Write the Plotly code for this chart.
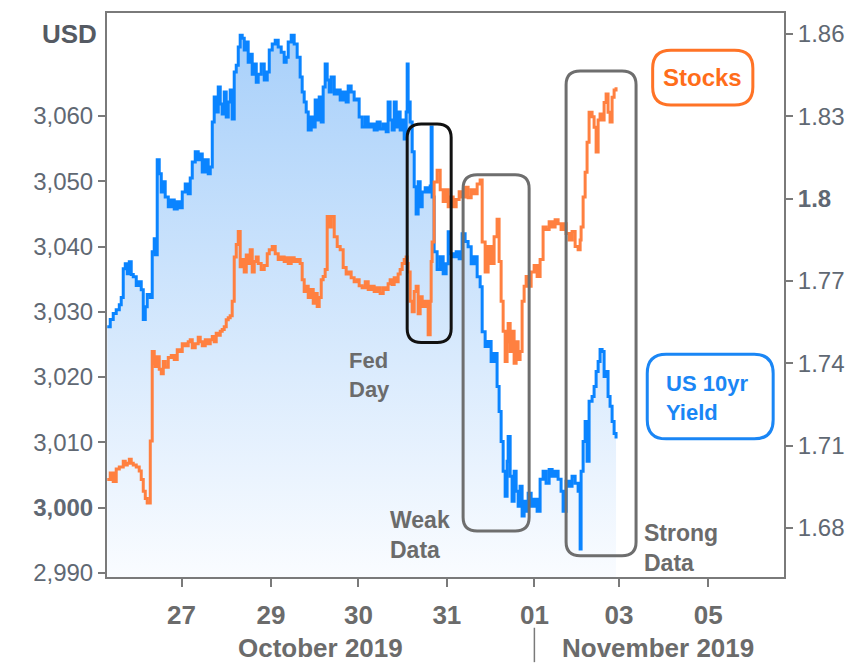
import plotly.graph_objects as go

# ---------------- data ----------------
# x position in trading-session units (0 = "27" tick, 1 = "29" tick, ...)
session_pos = [
    -0.846, -0.812, -0.778, -0.744, -0.709, -0.687, -0.664, -0.641, -0.618, -0.595,
    -0.573, -0.550, -0.516, -0.482, -0.459, -0.436, -0.413, -0.391, -0.356, -0.334,
    -0.311, -0.299, -0.277, -0.254, -0.231, -0.208, -0.186, -0.151, -0.117, -0.083,
    -0.049, -0.015, 0.008, 0.042, 0.076, 0.099, 0.122, 0.156, 0.190, 0.213,
    0.236, 0.270, 0.304, 0.327, 0.350, 0.372, 0.395, 0.418, 0.441, 0.463,
    0.486, 0.509, 0.532, 0.554, 0.577, 0.600, 0.623, 0.646, 0.668, 0.691,
    0.714, 0.737, 0.759, 0.782, 0.805, 0.828, 0.851, 0.873, 0.907, 0.942,
    0.976, 0.999, 1.033, 1.067, 1.101, 1.135, 1.169, 1.192, 1.215, 1.249,
    1.283, 1.317, 1.351, 1.374, 1.397, 1.420, 1.443, 1.477, 1.500, 1.522,
    1.545, 1.568, 1.591, 1.613, 1.636, 1.659, 1.682, 1.704, 1.739, 1.773,
    1.807, 1.841, 1.875, 1.898, 1.932, 1.966, 2.001, 2.023, 2.057, 2.092,
    2.126, 2.160, 2.194, 2.228, 2.262, 2.297, 2.331, 2.353, 2.376, 2.399,
    2.422, 2.445, 2.467, 2.490, 2.513, 2.536, 2.558, 2.570, 2.581, 2.604,
    2.627, 2.650, 2.672, 2.695, 2.718, 2.741, 2.775, 2.809, 2.832, 2.843,
    2.854, 2.877, 2.911, 2.946, 2.980, 3.014, 3.037, 3.059, 3.094, 3.128,
    3.162, 3.196, 3.230, 3.264, 3.299, 3.333, 3.367, 3.401, 3.424, 3.458,
    3.492, 3.526, 3.560, 3.594, 3.617, 3.640, 3.663, 3.686, 3.708, 3.720,
    3.743, 3.765, 3.788, 3.811, 3.834, 3.856, 3.879, 3.902, 3.925, 3.948,
    3.982, 4.016, 4.050, 4.084, 4.118, 4.152, 4.187, 4.221, 4.255, 4.289,
    4.323, 4.346, 4.380, 4.414, 4.448, 4.483, 4.517, 4.540, 4.551, 4.574,
    4.597, 4.619, 4.642, 4.676, 4.699, 4.722, 4.745, 4.767, 4.790, 4.813,
    4.836, 4.858, 4.881, 4.904, 4.927, 4.949,
]

yield_10y = [
    1.7533, 1.7559, 1.7581, 1.7595, 1.7613, 1.7639, 1.7744, 1.7762, 1.7726, 1.7770,
    1.7723, 1.7715, 1.7683, 1.7697, 1.7668, 1.7559, 1.7606, 1.7650, 1.7639, 1.7806,
    1.7853, 1.7795, 1.8141, 1.8090, 1.8024, 1.8061, 1.8006, 1.7970, 1.7995, 1.7962,
    1.7988, 1.7966, 1.8024, 1.8053, 1.8017, 1.8075, 1.8133, 1.8170, 1.8141, 1.8162,
    1.8097, 1.8141, 1.8090, 1.8115, 1.8279, 1.8370, 1.8315, 1.8406, 1.8344, 1.8308,
    1.8388, 1.8297, 1.8352, 1.8395, 1.8290, 1.8461, 1.8486, 1.8552, 1.8595, 1.8584,
    1.8541, 1.8570, 1.8497, 1.8526, 1.8453, 1.8490, 1.8424, 1.8453, 1.8490, 1.8432,
    1.8461, 1.8541, 1.8563, 1.8577, 1.8552, 1.8533, 1.8497, 1.8515, 1.8570, 1.8595,
    1.8563, 1.8515, 1.8443, 1.8388, 1.8352, 1.8315, 1.8250, 1.8297, 1.8261, 1.8359,
    1.8286, 1.8370, 1.8279, 1.8406, 1.8490, 1.8432, 1.8388, 1.8443, 1.8381, 1.8395,
    1.8359, 1.8388, 1.8352, 1.8410, 1.8388, 1.8359, 1.8363, 1.8297, 1.8261, 1.8297,
    1.8261, 1.8272, 1.8250, 1.8279, 1.8253, 1.8272, 1.8243, 1.8352, 1.8286, 1.8250,
    1.8352, 1.8261, 1.8315, 1.8250, 1.8286, 1.8217, 1.8315, 1.8490, 1.8352, 1.8279,
    1.8170, 1.8043, 1.7944, 1.8061, 1.7970, 1.8024, 1.8039, 1.8024, 1.8046, 1.8261,
    1.8006, 1.7806, 1.7741, 1.7788, 1.7726, 1.7762, 1.7879, 1.7799, 1.7788, 1.7806,
    1.7781, 1.7872, 1.7843, 1.7824, 1.7762, 1.7788, 1.7715, 1.7679, 1.7515, 1.7461,
    1.7479, 1.7406, 1.7435, 1.7315, 1.7224, 1.7115, 1.7006, 1.6915, 1.7043, 1.7133,
    1.6988, 1.6897, 1.7006, 1.6933, 1.6879, 1.6952, 1.6843, 1.6897, 1.6861, 1.6926,
    1.6879, 1.6904, 1.6861, 1.6977, 1.7006, 1.6963, 1.7013, 1.6988, 1.7006, 1.6977,
    1.6933, 1.6861, 1.6970, 1.6952, 1.6988, 1.6963, 1.6933, 1.6723, 1.7006, 1.7115,
    1.7188, 1.7043, 1.7261, 1.7279, 1.7315, 1.7370, 1.7406, 1.7450, 1.7443, 1.7352,
    1.7370, 1.7279, 1.7243, 1.7188, 1.7144, 1.7126,
]

stocks = [
    3004.3, 3005.3, 3004.0, 3005.9, 3006.2, 3006.2, 3007.1, 3006.5, 3006.8, 3007.4,
    3006.8, 3006.5, 3006.2, 3005.6, 3004.3, 3002.5, 3001.4, 3000.7, 3010.2, 3023.9,
    3022.1, 3021.6, 3023.1, 3021.2, 3020.5, 3022.4, 3021.5, 3023.0, 3023.3, 3022.7,
    3024.2, 3023.9, 3025.1, 3024.8, 3025.4, 3025.7, 3024.5, 3025.1, 3026.1, 3025.4,
    3024.8, 3025.7, 3025.1, 3025.7, 3026.2, 3025.4, 3026.7, 3026.4, 3027.0, 3027.3,
    3027.7, 3028.8, 3029.1, 3029.4, 3031.6, 3038.4, 3040.3, 3042.3, 3036.9, 3038.0,
    3036.1, 3038.7, 3037.4, 3039.5, 3036.1, 3037.7, 3038.4, 3037.4, 3036.5, 3037.1,
    3038.9, 3039.5, 3040.0, 3038.9, 3038.0, 3038.4, 3037.7, 3038.3, 3037.4, 3038.3,
    3037.7, 3038.0, 3037.4, 3034.9, 3033.1, 3033.9, 3032.2, 3033.4, 3031.3, 3032.8,
    3030.8, 3032.2, 3034.9, 3035.4, 3036.5, 3044.6, 3043.0, 3044.6, 3041.5, 3040.0,
    3039.5, 3036.8, 3035.8, 3036.1, 3035.2, 3034.6, 3034.9, 3034.0, 3033.7, 3034.6,
    3033.4, 3033.9, 3033.1, 3033.7, 3032.8, 3033.7, 3033.4, 3034.3, 3034.9, 3034.2,
    3035.2, 3034.6, 3035.8, 3036.5, 3037.4, 3038.0, 3038.4, 3037.4, 3036.1, 3031.6,
    3030.0, 3033.1, 3033.9, 3029.7, 3032.3, 3030.8, 3031.6, 3026.5, 3031.6, 3037.7,
    3040.7, 3049.9, 3051.7, 3048.7, 3046.9, 3048.7, 3046.1, 3047.6, 3046.1, 3047.2,
    3048.4, 3047.6, 3049.1, 3047.5, 3048.7, 3048.1, 3049.6, 3050.2, 3040.7, 3036.1,
    3040.0, 3037.4, 3041.5, 3044.2, 3037.7, 3031.6, 3027.0, 3022.4, 3025.4, 3028.2,
    3023.9, 3027.0, 3022.1, 3025.4, 3022.7, 3023.9, 3031.6, 3033.9, 3035.4, 3033.9,
    3036.1, 3037.1, 3035.4, 3038.0, 3043.0, 3042.6, 3043.8, 3043.0, 3044.1, 3043.5,
    3042.6, 3043.5, 3042.0, 3041.0, 3042.3, 3040.0, 3039.5, 3041.0, 3043.0, 3047.6,
    3051.4, 3056.0, 3060.6, 3059.9, 3058.3, 3054.5, 3059.4, 3060.3, 3059.4, 3062.1,
    3063.4, 3060.6, 3059.1, 3062.9, 3064.0, 3064.4,
]

date_tick_pos = [0.0, 1.018, 2.015, 3.022, 4.019, 4.983, 6.0]
date_tick_labels = ["27", "29", "30", "31", "01", "03", "05"]
month_labels = ["October 2019", "November 2019"]

usd_ticks = [2990, 3000, 3010, 3020, 3030, 3040, 3050, 3060]
usd_tick_labels = ["2,990", "<b>3,000</b>", "3,010", "3,020", "3,030", "3,040", "3,050", "3,060"]
yield_ticks = [1.68, 1.71, 1.74, 1.77, 1.80, 1.83, 1.86]
yield_tick_labels = ["1.68", "1.71", "1.74", "1.77", "<b>1.8</b>", "1.83", "1.86"]

# event windows: (session start, session end, USD low, USD high)
fed_day = (2.570, 3.071, 3025.3, 3058.8)
weak_data = (3.207, 3.959, 2996.4, 3051.0)
strong_data = (4.380, 5.177, 2992.6, 3066.9)

# ---------------- style ----------------
BLUE = "#0a84ff"
ORANGE = "#ff8040"
AXIS = "#7a7a7a"
TXT = "#606873"
LBL = "#6b6b6b"
FONT = "Liberation Sans, Arial, sans-serif"


def rounded(x0, x1, y0, y1, rx, ry):
    return (f"M {x0+rx},{y0} L {x1-rx},{y0} Q {x1},{y0} {x1},{y0+ry} "
            f"L {x1},{y1-ry} Q {x1},{y1} {x1-rx},{y1} L {x0+rx},{y1} "
            f"Q {x0},{y1} {x0},{y1-ry} L {x0},{y0+ry} Q {x0},{y0} {x0+rx},{y0} Z")


fig = go.Figure()

fig.add_trace(go.Scatter(
    x=session_pos, y=yield_10y, yaxis="y", mode="lines", name="US 10yr Yield",
    line=dict(color=BLUE, width=3, shape="hv"),
    fill="tozeroy",
    fillgradient=dict(type="vertical",
                      colorscale=[[0, "rgb(250,252,255)"], [1, "rgb(168,208,250)"]],
                      start=1.662, stop=1.86),
))
fig.add_trace(go.Scatter(
    x=session_pos, y=stocks, yaxis="y2", mode="lines", name="Stocks",
    line=dict(color=ORANGE, width=3, shape="hv"),
))

shapes = []
for (x0, x1, y0, y1), col in [(fed_day, "#111111"), (weak_data, "#6e6e6e"),
                              (strong_data, "#6e6e6e")]:
    shapes.append(dict(type="path", xref="x", yref="y2",
                       path=rounded(x0, x1, y0, y1, 0.16, 2.1),
                       line=dict(color=col, width=3), layer="above"))

# legend boxes (paper coordinates)
shapes.append(dict(type="path", xref="paper", yref="paper",
                   path=rounded(0.806, 0.954, 0.837, 0.934, 0.027, 0.032),
                   line=dict(color="#ff7326", width=3)))
shapes.append(dict(type="path", xref="paper", yref="paper",
                   path=rounded(0.798, 0.984, 0.245, 0.395, 0.028, 0.034),
                   line=dict(color="#1a86f5", width=3)))
# month divider
shapes.append(dict(type="line", xref="x", yref="paper", x0=date_tick_pos[4], x1=date_tick_pos[4],
                   y0=-0.090, y1=-0.151, line=dict(color=AXIS, width=1.5)))


def note(text, x, y, size, color, xanchor="left"):
    return dict(text=text, x=x, y=y, xref="paper", yref="paper", showarrow=False,
                xanchor=xanchor, yanchor="middle", align=xanchor if xanchor != "center" else "center",
                font=dict(size=size, color=color, family=FONT))


annotations = [
    note("<b>USD</b>", -0.0547, 0.963, 26, "#555a63", "center"),
    note("<b>Fed<br>Day</b>", 0.355, 0.358, 22, LBL),
    note("<b>Weak<br>Data</b>", 0.4155, 0.074, 23, LBL),
    note("<b>Strong<br>Data</b>", 0.790, 0.052, 23, LBL),
    note("<b>Stocks</b>", 0.880, 0.886, 24, "#ff6d1a", "center"),
    note("<b>US 10yr<br>Yield</b>", 0.823, 0.318, 22, "#1a86f5"),
    note("<b>" + month_labels[0] + "</b>", 0.315, -0.126, 26, LBL, "center"),
    note("<b>" + month_labels[1] + "</b>", 0.814, -0.126, 26, LBL, "center"),
]

fig.update_layout(
    width=846, height=657,
    margin=dict(l=99, r=70, t=3, b=88),
    paper_bgcolor="white", plot_bgcolor="white",
    showlegend=False,
    font=dict(family=FONT),
    xaxis=dict(range=[-0.849, 6.862], tickmode="array", tickvals=date_tick_pos,
               ticktext=["<b>" + t + "</b>" for t in date_tick_labels],
               ticks="outside", ticklen=8, tickwidth=2, tickcolor=AXIS,
               showline=True, mirror=True, linecolor=AXIS, linewidth=2,
               showgrid=False, zeroline=False, ticklabelstandoff=6,
               tickfont=dict(size=26, color=LBL, family=FONT)),
    yaxis=dict(side="right", range=[1.6621, 1.8676], tickmode="array", tickvals=yield_ticks,
               ticktext=yield_tick_labels, ticks="outside", ticklen=7, tickwidth=2,
               tickcolor=AXIS, showline=True, linecolor=AXIS, linewidth=2,
               showgrid=False, zeroline=False, automargin=False,
               tickfont=dict(size=24, color=TXT, family=FONT)),
    yaxis2=dict(side="left", overlaying="y", range=[2989.35, 3075.8], tickmode="array",
                tickvals=usd_ticks, ticktext=usd_tick_labels, ticks="outside", ticklen=7,
                tickwidth=2, tickcolor=AXIS, showline=True, linecolor=AXIS, linewidth=2,
                showgrid=False, zeroline=False, automargin=False,
                tickfont=dict(size=24, color=TXT, family=FONT)),
    shapes=shapes,
    annotations=annotations,
)

fig.write_html("out.html")
